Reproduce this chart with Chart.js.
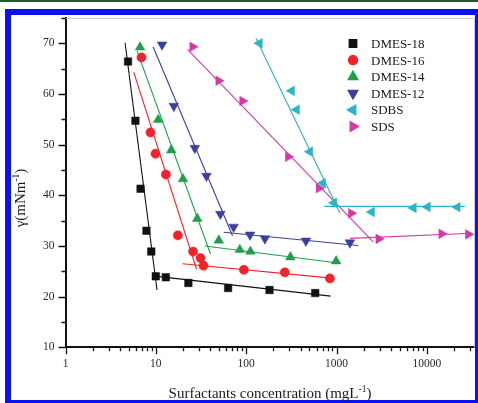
<!DOCTYPE html>
<html>
<head>
<meta charset="utf-8">
<script src="https://cdn.jsdelivr.net/npm/chart.js@4/dist/chart.umd.min.js"></script>
<style>
  body { margin: 0; background: #fff; }
  #wrap { position: relative; width: 478px; height: 403px; overflow: hidden; }
  #topline { position: absolute; left: 0; top: 0; width: 478px; height: 2px; background: #1d5b2e; }
  #frame { position: absolute; left: 5px; top: 9px; width: 473px; height: 394px; box-sizing: border-box;
           border: 6px solid #0b12f2; border-right-width: 3px; border-bottom-width: 3px; }
  #chart { position: absolute; left: 0; top: 0; }
</style>
</head>
<body>
<div id="wrap">
  <div id="topline"></div>
  <div id="frame"></div>
  <canvas id="chart" width="478" height="403"></canvas>
</div>
<script>
const seriesNames = ['DMES-18', 'DMES-16', 'DMES-14', 'DMES-12', 'SDBS', 'SDS'];

// concentration (mg/L) and surface tension (mN/m)
const dmes18Conc = [4.92, 5.94, 6.77, 7.87, 8.90, 9.97, 12.9, 22.9, 63.0, 181, 580];
const dmes18Gamma = [66.4, 54.7, 41.3, 33.0, 28.9, 24.0, 23.8, 22.7, 21.7, 21.3, 20.7];
const dmes16Conc = [6.93, 8.71, 9.90, 12.9, 17.5, 25.8, 31.2, 33.7, 94.1, 267, 843];
const dmes16Gamma = [67.2, 52.4, 48.2, 44.1, 32.1, 28.9, 27.6, 26.1, 25.3, 24.8, 23.6];
const dmes14Conc = [6.68, 10.6, 14.8, 19.95, 28.7, 49.7, 84.9, 111, 308, 987];
const dmes14Gamma = [69.2, 54.9, 48.9, 43.2, 35.4, 31.1, 29.25, 28.9, 27.8, 27.0];
const dmes12Conc = [11.7, 15.8, 27.0, 36.3, 51.7, 72.5, 110, 161, 457, 1403];
const dmes12Gamma = [69.7, 57.6, 49.3, 43.8, 36.3, 33.75, 32.2, 31.45, 31.0, 30.65];
const sdbsConc = [140, 318, 361, 506, 705, 933, 2443, 7090, 10130, 21660];
const sdbsGamma = [70.0, 60.6, 56.9, 48.6, 42.4, 38.5, 36.7, 37.5, 37.7, 37.65];
const sdsConc = [25.5, 49.5, 91, 291, 637, 1452, 2926, 14550, 28650];
const sdsGamma = [69.3, 62.6, 58.6, 47.6, 41.4, 36.45, 31.4, 32.4, 32.3];

// fitted lines: first two ends below the cmc, last two ends above it
const dmes18FitConc = [4.56, 10.3, 9.23, 859];
const dmes18FitGamma = [70.1, 21.3, 24.1, 20.1];
const dmes16FitConc = [5.69, 28.2, 19.7, 940];
const dmes16FitGamma = [64.3, 25.4, 26.5, 23.6];
const dmes14FitConc = [6.19, 40.2, 34.8, 1088];
const dmes14FitGamma = [68.5, 28.4, 30.0, 26.6];
const dmes12FitConc = [9.31, 70.5, 56.2, 1734];
const dmes12FitGamma = [69.3, 32.0, 32.7, 30.1];
const sdbsFitConc = [128, 1088, 723, 26200];
const sdbsFitGamma = [71.0, 36.5, 37.8, 37.8];
const sdsFitConc = [22.4, 2543, 1404, 31500];
const sdsFitGamma = [68.8, 30.8, 31.5, 32.5];

const xTickLabels = [1, 10, 100, 1000, 10000];
const yTickLabels = [10, 20, 30, 40, 50, 60, 70];

const colors = ['#111111', '#f0232b', '#1f9f4b', '#3b3f9e', '#2bb4c6', '#d23aa6'];
const markers = [
  { style: 'rect', rotation: 0, radius: 5.3 },
  { style: 'circle', rotation: 0, radius: 4.6 },
  { style: 'triangle', rotation: 0, radius: 5.6 },
  { style: 'triangle', rotation: 180, radius: 5.6 },
  { style: 'triangle', rotation: -90, radius: 5.6 },
  { style: 'triangle', rotation: 90, radius: 5.6 }
];

const points = [
  [dmes18Conc, dmes18Gamma], [dmes16Conc, dmes16Gamma], [dmes14Conc, dmes14Gamma],
  [dmes12Conc, dmes12Gamma], [sdbsConc, sdbsGamma], [sdsConc, sdsGamma]
];
const fits = [
  [dmes18FitConc, dmes18FitGamma], [dmes16FitConc, dmes16FitGamma], [dmes14FitConc, dmes14FitGamma],
  [dmes12FitConc, dmes12FitGamma], [sdbsFitConc, sdbsFitGamma], [sdsFitConc, sdsFitGamma]
];

const serif = "'Liberation Serif', 'Times New Roman', serif";
const datasets = [];

fits.forEach(([cx, gy], i) => {
  [0, 2].forEach(k => {
    datasets.push({
      label: seriesNames[i] + ' fit',
      data: [{ x: cx[k], y: gy[k] }, { x: cx[k + 1], y: gy[k + 1] }],
      showLine: true,
      borderColor: colors[i],
      borderWidth: 1.1,
      pointRadius: 0,
      order: 2
    });
  });
});

points.forEach(([cx, gy], i) => {
  datasets.push({
    label: seriesNames[i],
    data: cx.map((v, j) => ({ x: v, y: gy[j] })),
    showLine: false,
    pointStyle: markers[i].style,
    pointRotation: markers[i].rotation,
    pointRadius: markers[i].radius,
    backgroundColor: colors[i],
    borderColor: colors[i],
    pointBorderWidth: 0.5,
    order: 1
  });
});

function drawTitle(ctx, x, y, angle, main, sup, tail) {
  ctx.save();
  ctx.translate(x, y);
  ctx.rotate(angle);
  ctx.fillStyle = '#1a1a1a';
  ctx.textBaseline = 'alphabetic';
  ctx.textAlign = 'left';
  const big = '15px ' + serif, small = '9.5px ' + serif;
  ctx.font = big;
  const w1 = ctx.measureText(main).width, w3 = ctx.measureText(tail).width;
  ctx.font = small;
  const w2 = ctx.measureText(sup).width;
  let px = -(w1 + w2 + w3) / 2;
  ctx.font = big;
  ctx.fillText(main, px, 0);
  px += w1;
  ctx.font = small;
  ctx.fillText(sup, px, -6);
  px += w2;
  ctx.font = big;
  ctx.fillText(tail, px, 0);
  ctx.restore();
}

const decor = {
  id: 'decor',
  beforeDatasetsDraw(chart) {
    const { ctx, chartArea: a } = chart;
    ctx.save();
    ctx.strokeStyle = '#c9c9c9';
    ctx.lineWidth = 1;
    ctx.beginPath();
    ctx.moveTo(a.left, a.top + 0.5);
    ctx.lineTo(a.right - 0.5, a.top + 0.5);
    ctx.lineTo(a.right - 0.5, a.bottom);
    ctx.stroke();
    ctx.restore();
  },
  afterDraw(chart) {
    const { ctx, chartArea: a, scales: { x, y } } = chart;
    ctx.save();
    // tick marks, long at each decade / each 10 units
    ctx.strokeStyle = '#111';
    ctx.lineWidth = 1.3;
    ctx.beginPath();
    x.ticks.forEach(t => {
      const m = t.value / Math.pow(10, Math.floor(Math.log10(t.value) + 1e-9));
      if (Math.abs(m - Math.round(m)) > 1e-6) return;
      const px = Math.round(x.getPixelForValue(t.value)) + 0.5;
      const len = Math.round(m) === 1 ? 7 : 4;
      ctx.moveTo(px, a.bottom);
      ctx.lineTo(px, a.bottom + len);
    });
    y.ticks.forEach(t => {
      const py = Math.round(y.getPixelForValue(t.value)) + 0.5;
      const len = yTickLabels.includes(t.value) ? 7 : 4;
      ctx.moveTo(a.left, py);
      ctx.lineTo(a.left - len, py);
    });
    ctx.stroke();

    // legend
    ctx.font = '13px ' + serif;
    ctx.textBaseline = 'middle';
    ctx.textAlign = 'left';
    seriesNames.forEach((name, i) => {
      const ly = 43.5 + i * 16.6;
      ctx.fillStyle = colors[i];
      ctx.strokeStyle = colors[i];
      Chart.helpers.drawPoint(ctx, {
        pointStyle: markers[i].style,
        rotation: markers[i].rotation,
        radius: markers[i].radius,
        borderWidth: 0.5
      }, 353, ly);
      ctx.fillStyle = '#1a1a1a';
      ctx.fillText(name, 371, ly + 1);
    });
    ctx.restore();

    drawTitle(ctx, 270, 397.5, 0, 'Surfactants concentration (mgL', '-1', ')');
    drawTitle(ctx, 24.5, 198, -Math.PI / 2, '\u03b3(mNm', '-1', ')');
  }
};

new Chart(document.getElementById('chart'), {
  type: 'scatter',
  data: { datasets },
  options: {
    responsive: false,
    animation: false,
    events: [],
    layout: { autoPadding: false, padding: { left: 0, top: 17.5, right: 3, bottom: 0 } },
    plugins: { legend: { display: false }, tooltip: { enabled: false } },
    scales: {
      x: {
        type: 'logarithmic',
        min: 1,
        max: 34000,
        afterFit: s => { s.height = 55.7; s.paddingRight = 0; },
        grid: { display: true, drawOnChartArea: false, drawTicks: false },
        border: { display: true, color: '#111', width: 2 },
        ticks: {
          autoSkip: false,
          maxRotation: 0,
          padding: 10,
          color: '#2a2a2a',
          font: { family: serif, size: 11.5 },
          callback: v => xTickLabels.includes(v) ? String(v) : ''
        }
      },
      y: {
        min: 10,
        max: 75,
        afterFit: s => { s.width = 65.5; },
        grid: { display: true, drawOnChartArea: false, drawTicks: false },
        border: { display: true, color: '#111', width: 2 },
        ticks: {
          stepSize: 5,
          autoSkip: false,
          padding: 11,
          color: '#2a2a2a',
          font: { family: serif, size: 11.5 },
          callback: v => yTickLabels.includes(v) ? String(v) : ''
        }
      }
    }
  },
  plugins: [decor]
});
</script>
</body>
</html>
